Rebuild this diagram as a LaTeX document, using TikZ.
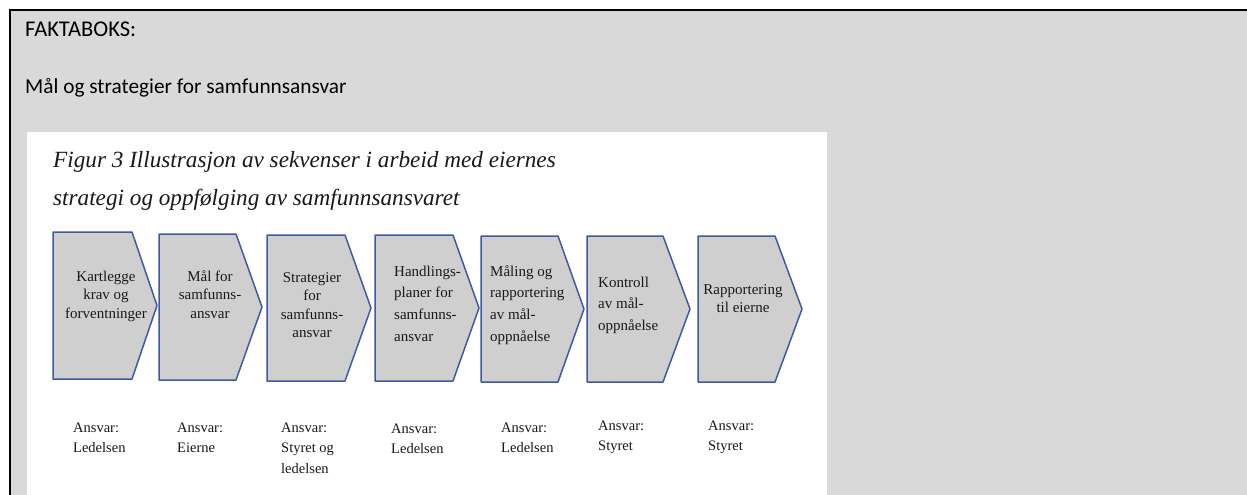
\documentclass[tikz,border=0pt]{standalone}
\usepackage{fontspec}
\setmainfont{Liberation Serif}
\newfontfamily\calibrifont{Carlito}
\definecolor{boxgray}{RGB}{217,217,217}
\definecolor{chevfill}{RGB}{207,207,207}
\definecolor{chevline}{RGB}{62,90,160}
\definecolor{txt}{RGB}{25,25,25}
\newcommand{\tlines}[2]{\begin{tabular}[t]{@{}#1@{}}#2\end{tabular}}
\begin{document}
\begin{tikzpicture}[x=1pt,y=-1pt,
  chev/.style={draw=chevline,fill=chevfill,line width=1.5pt,line join=round},
  facta/.style={inner sep=0pt,font=\calibrifont\fontsize{21.3}{25}\selectfont,text=black},
  ttl/.style={inner sep=0pt,font=\itshape\fontsize{23.2}{27}\selectfont,text=txt},
  chtxt/.style={inner sep=0pt,text=txt,font=\fontsize{15}{18.5}\selectfont},
  chtxtw/.style={inner sep=0pt,text=txt,font=\fontsize{15}{21.7}\selectfont},
  ansv/.style={inner sep=0pt,text=txt,font=\fontsize{14.5}{20.5}\selectfont,anchor=base west}]
\useasboundingbox (0,0) rectangle (1247,495);
\fill[white] (0,0) rectangle (1247,495);
\fill[boxgray] (10,10) rectangle (1247,495);
\draw[line width=2pt] (10,495) -- (10,10) -- (1247,10);
\fill[white] (27,132) rectangle (827,495);
\node[facta,anchor=base west,font=\calibrifont\fontsize{22.5}{25}\selectfont] (fakta) at (25,37) {FAKTABOKS:};
\node[facta,anchor=base west] (maal) at (25,93) {Mål og strategier for samfunnsansvar};
\node[ttl,anchor=base west] (title1) at (53,167) {Figur 3 Illustrasjon av sekvenser i arbeid med eiernes};
\node[ttl,anchor=base west] (title2) at (53,205) {strategi og oppfølging av samfunnsansvaret};
% chevrons: left, shoulder, tip, top, bottom
\foreach \L/\S/\T/\A/\B [count=\i] in {53/132/157/232/379,159/236/262/234/380,267/345/371/235/381,375/453/479/235/381,481/558/584/236/382,587/663/690/236/382,698/775/802/236/382}{
  \draw[chev] (\L,\A) -- (\S,\A) -- (\T,{(\A+\B)/2}) -- (\S,\B) -- (\L,\B) -- cycle;
}
\node[chtxt,anchor=base] (c1) at (106,281) {\tlines{c}{Kartlegge\\krav og\\forventninger}};
\node[chtxt,anchor=base] (c2) at (210,281) {\tlines{c}{Mål for\\samfunns-\\ansvar}};
\node[chtxt,anchor=base] (c3) at (312,282) {\tlines{c}{Strategier\\for\\samfunns-\\ansvar}};
\node[chtxtw,anchor=base west] (c4) at (394,276) {\tlines{l}{Handlings-\\planer for\\samfunns-\\ansvar}};
\node[chtxtw,anchor=base west] (c5) at (490,276) {\tlines{l}{Måling og\\rapportering\\av mål-\\oppnåelse}};
\node[chtxtw,anchor=base west] (c6) at (598,287) {\tlines{l}{Kontroll\\av mål-\\oppnåelse}};
\node[chtxt,anchor=base] (c7) at (743,294) {\tlines{c}{Rapportering\\til eierne}};
% responsibility labels
\node[ansv] (a1) at (73,432) {\tlines{l}{Ansvar:\\Ledelsen}};
\node[ansv] (a2) at (177,432) {\tlines{l}{Ansvar:\\Eierne}};
\node[ansv] (a3) at (281,432) {\tlines{l}{Ansvar:\\Styret og\\ledelsen}};
\node[ansv] (a4) at (391,433) {\tlines{l}{Ansvar:\\Ledelsen}};
\node[ansv] (a5) at (501,432) {\tlines{l}{Ansvar:\\Ledelsen}};
\node[ansv] (a6) at (598,430) {\tlines{l}{Ansvar:\\Styret}};
\node[ansv] (a7) at (708,430) {\tlines{l}{Ansvar:\\Styret}};
\end{tikzpicture}
\end{document}
